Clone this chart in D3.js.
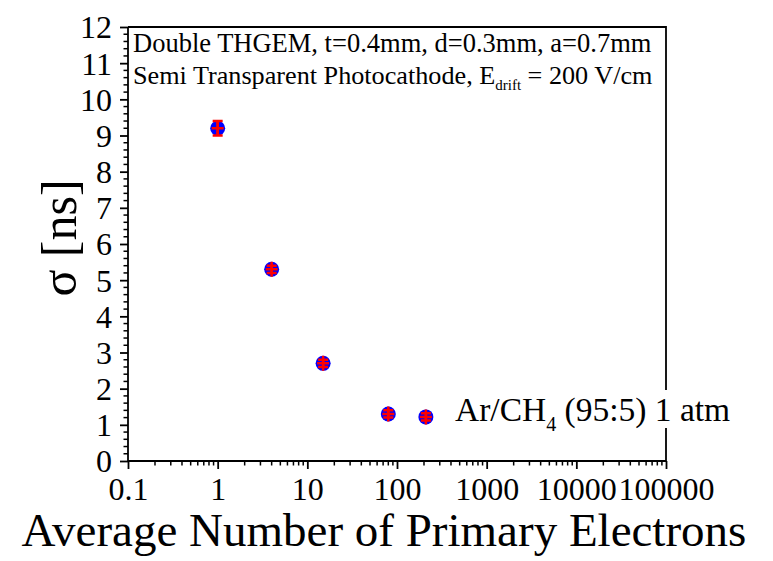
<!DOCTYPE html>
<html>
<head>
<meta charset="utf-8">
<script src="https://cdn.jsdelivr.net/npm/d3@7"></script>
<style>
  html, body { margin: 0; padding: 0; background: #fff; }
  svg { display: block; }
  text { font-family: "Liberation Serif", "Times New Roman", serif; fill: #000; }
</style>
</head>
<body>
<svg id="chart" width="773" height="561"></svg>
<script>
// Timing resolution vs. number of primary electrons
const electrons = [1, 4, 15, 80, 210];
const sigmaNs = [9.2, 5.3, 2.7, 1.3, 1.22];
const sigmaErr = [0.2, 0.1, 0.1, 0.1, 0.1];

const xTickValues = [0.1, 1, 10, 100, 1000, 10000, 100000];
const xTickLabels = ["0.1", "1", "10", "100", "1000", "10000", "100000"];
const yTickValues = [0, 1, 2, 3, 4, 5, 6, 7, 8, 9, 10, 11, 12];

const seriesLabel = { main: "Ar/CH", sub: "4", tail: " (95:5) 1 atm" };
const noteLine1 = "Double THGEM, t=0.4mm, d=0.3mm, a=0.7mm";
const noteLine2 = { main: "Semi Transparent Photocathode, E", sub: "drift", tail: " = 200 V/cm" };

const svg = d3.select("#chart");
const plotL = 128, plotR = 666, plotT = 27, plotB = 461;
const serif = "Liberation Serif, Times New Roman, serif";

const x = d3.scaleLog().domain([0.1, 100000]).range([plotL, plotR]);
const y = d3.scaleLinear().domain([0, 12]).range([plotB, plotT]);

// minor ticks
const xMinor = [];
for (let e = -1; e < 5; e++) for (let k = 2; k <= 9; k++) xMinor.push(k * Math.pow(10, e));
const yMinor = d3.range(0, 12.001, 0.2).filter(v => Math.abs(v - Math.round(v)) > 1e-6);

// frame (top and right)
svg.append("path")
  .attr("d", `M${plotL},${plotT}H${plotR}V${plotB}`)
  .attr("fill", "none").attr("stroke", "#000").attr("stroke-width", 1.8);

// bottom axis
const xAxis = d3.axisBottom(x).tickValues(xTickValues)
  .tickFormat((d, i) => xTickLabels[i]).tickSize(8).tickPadding(5);
const gx = svg.append("g").attr("transform", `translate(0,${plotB})`).call(xAxis);
gx.attr("font-family", serif);
gx.append("g").selectAll("line").data(xMinor).join("line")
  .attr("x1", d => x(d)).attr("x2", d => x(d)).attr("y1", 0).attr("y2", 4.5)
  .attr("stroke", "#000").attr("stroke-width", 1.5);
gx.select(".domain").attr("d", `M${plotL},0H${plotR}`).attr("stroke-width", 1.8);
gx.selectAll(".tick line").attr("stroke-width", 1.8);
gx.selectAll(".tick text").attr("font-size", 32).attr("dy", "0.8em");

// left axis
const yAxis = d3.axisLeft(y).tickValues(yTickValues).tickSize(8).tickPadding(8);
const gy = svg.append("g").attr("transform", `translate(${plotL},0)`).call(yAxis);
gy.attr("font-family", serif);
gy.append("g").selectAll("line").data(yMinor).join("line")
  .attr("y1", d => y(d)).attr("y2", d => y(d)).attr("x1", 0).attr("x2", -4.5)
  .attr("stroke", "#000").attr("stroke-width", 1.5);
gy.select(".domain").attr("d", `M0,${plotT}V${plotB}`).attr("stroke-width", 1.8);
gy.selectAll(".tick line").attr("stroke-width", 1.8);
gy.selectAll(".tick text").attr("font-size", 32).attr("dy", "0.34em");

// axis titles
svg.append("text")
  .attr("x", (plotL + plotR) / 2 - 13).attr("y", 546)
  .attr("text-anchor", "middle").attr("font-size", 47)
  .text("Average Number of Primary Electrons");

svg.append("text")
  .attr("transform", `translate(76,238) rotate(-90)`)
  .attr("text-anchor", "middle").attr("font-size", 50)
  .text("σ [ns]");

// detector note
svg.append("text").attr("x", 133).attr("y", 52).attr("font-size", 26.5).text(noteLine1);
const n2 = svg.append("text").attr("x", 133).attr("y", 84).attr("font-size", 26.2);
n2.append("tspan").text(noteLine2.main);
n2.append("tspan").attr("font-size", 15).attr("dy", 6).text(noteLine2.sub);
n2.append("tspan").attr("dy", -6).text(noteLine2.tail);

// data points
const pts = svg.append("g");
const idx = d3.range(electrons.length);
pts.selectAll("circle").data(idx).join("circle")
  .attr("cx", i => x(electrons[i])).attr("cy", i => y(sigmaNs[i]))
  .attr("r", 7.5).attr("fill", "#0000ff");

const red = "#ff0000";
// error bars with caps
pts.selectAll("line.err").data(idx).join("line").attr("class", "err")
  .attr("x1", i => x(electrons[i])).attr("x2", i => x(electrons[i]))
  .attr("y1", i => y(sigmaNs[i] - sigmaErr[i])).attr("y2", i => y(sigmaNs[i] + sigmaErr[i]))
  .attr("stroke", red).attr("stroke-width", 2.5);
pts.selectAll("path.cap").data(idx).join("path").attr("class", "cap")
  .attr("d", i => {
    const cx = x(electrons[i]);
    const y1 = y(sigmaNs[i] - sigmaErr[i]), y2 = y(sigmaNs[i] + sigmaErr[i]);
    return `M${cx - 5},${y1}H${cx + 5}M${cx - 5},${y2}H${cx + 5}`;
  })
  .attr("stroke", red).attr("stroke-width", 2.5).attr("fill", "none");
// cross markers
pts.selectAll("path.cross").data(idx).join("path").attr("class", "cross")
  .attr("d", i => {
    const cx = x(electrons[i]), cy = y(sigmaNs[i]);
    return `M${cx - 6},${cy}H${cx + 6}M${cx},${cy - 7.5}V${cy + 7.5}`;
  })
  .attr("stroke", red).attr("stroke-width", 2.5).attr("fill", "none");

// series label with white backing
const lg = svg.append("g");
const bg = lg.append("rect").attr("fill", "#fff");
const lt = lg.append("text").attr("x", 455).attr("y", 421).attr("font-size", 33.5);
lt.append("tspan").text(seriesLabel.main);
lt.append("tspan").attr("font-size", 20).attr("dy", 10).text(seriesLabel.sub);
lt.append("tspan").attr("dy", -10).text(seriesLabel.tail);
const bb = lt.node().getBBox();
bg.attr("x", bb.x - 2).attr("y", 390).attr("width", bb.width + 4).attr("height", 38);
</script>
</body>
</html>
